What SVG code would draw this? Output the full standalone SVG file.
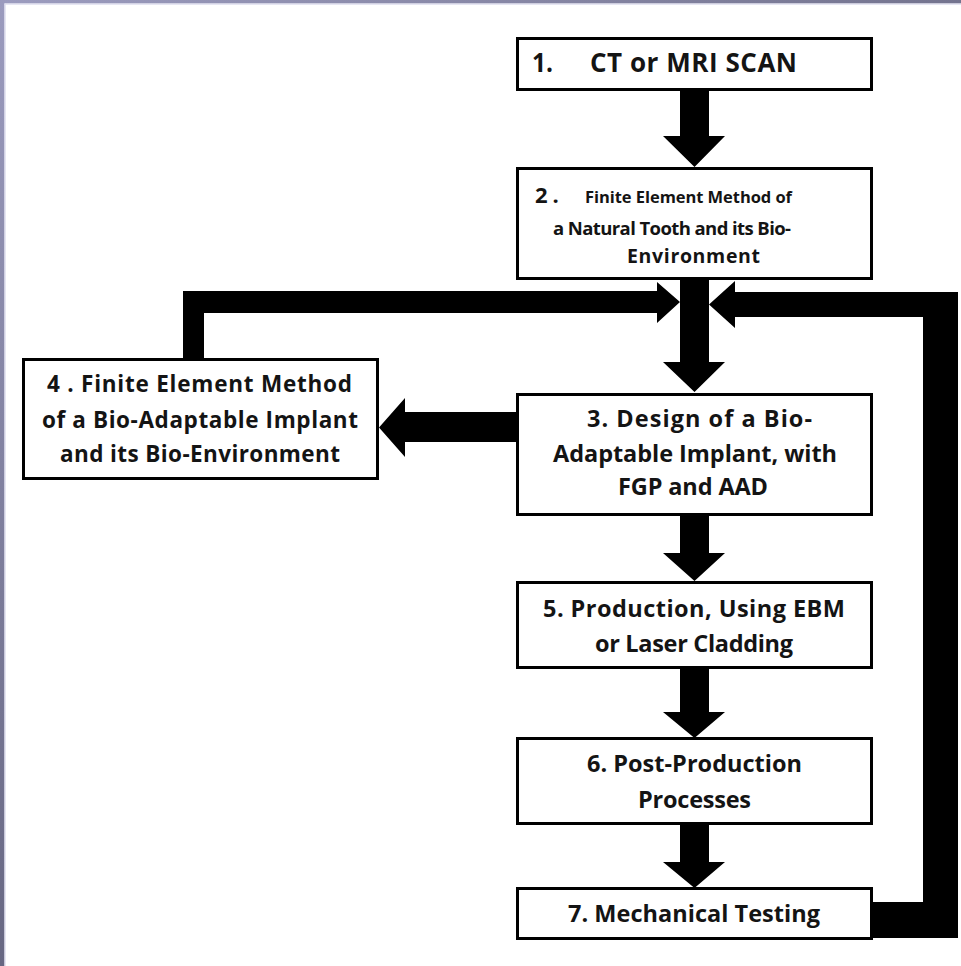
<svg xmlns="http://www.w3.org/2000/svg" width="961" height="966" viewBox="0 0 961 966">
<defs>
<linearGradient id="gTop" x1="0" y1="0" x2="1" y2="0">
<stop offset="0" stop-color="#9c9cbf"/><stop offset="1" stop-color="#74748f"/>
</linearGradient>
<linearGradient id="gLeft" x1="0" y1="0" x2="0" y2="1">
<stop offset="0" stop-color="#9b9bbe"/><stop offset="1" stop-color="#676782"/>
</linearGradient>
<style>
.box{fill:#fff;stroke:#000;stroke-width:3}
.con{fill:#000}
text{font-family:"Open Sans",Lato,"Liberation Sans",sans-serif;font-weight:bold;fill:#141414}
</style>
</defs>
<rect x="0" y="0" width="961" height="966" fill="#fff"/>
<rect x="0" y="0" width="961" height="3.5" fill="url(#gTop)"/>
<rect x="0" y="0" width="4.5" height="966" fill="url(#gLeft)"/>
<rect x="4.5" y="3.5" width="956.5" height="1.2" fill="#dcdcee"/>
<rect x="4.5" y="3.5" width="1.2" height="962.5" fill="#dcdcee"/>

<g id="connectors">
<polygon class="con" points="680,90 709,90 709,136 725,136 694.5,167 663,136 680,136"/>
<polygon class="con" points="680,278 709,278 709,362 725,362 694.5,392 663,362 680,362"/>
<polygon class="con" points="680,515 709,515 709,553 725,553 694.5,581 663,553 680,553"/>
<polygon class="con" points="680,668 709,668 709,712 725,712 694.5,738 663,712 680,712"/>
<polygon class="con" points="680,824 709,824 709,862 725,862 694.5,888 663,862 680,862"/>
<polygon class="con" points="516,412 405,412 405,398 379,427.5 405,457 405,442 516,442"/>
<polygon class="con" points="183,358 183,291 657,291 657,282 680,302 657,323 657,313 204,313 204,358"/>
<polygon class="con" points="872,902 923,902 923,317 735,317 735,328 709,304.5 735,281 735,292 958,292 958,938 872,938"/>
</g>

<g id="node1">
<rect class="box" x="517.5" y="38.5" width="354" height="51"/>
<text x="532" y="72" font-size="26" textLength="21" lengthAdjust="spacingAndGlyphs">1.</text>
<text x="590" y="72" font-size="26" textLength="207" lengthAdjust="spacing">CT or MRI SCAN</text>
</g>

<g id="node2">
<rect class="box" x="517.5" y="168.5" width="354" height="110"/>
<text x="535" y="203" font-size="22">2<tspan dx="5">.</tspan></text>
<text x="585" y="203" font-size="16.5" textLength="207" lengthAdjust="spacing">Finite Element Method of</text>
<text x="553" y="235" font-size="18.5" textLength="238" lengthAdjust="spacing">a Natural Tooth and its Bio-</text>
<text x="627" y="263" font-size="19.5" textLength="133" lengthAdjust="spacing">Environment</text>
</g>

<g id="node3">
<rect class="box" x="517.5" y="394.5" width="354" height="120"/>
<text x="587" y="427" font-size="23.5" textLength="225" lengthAdjust="spacing">3. Design of a Bio-</text>
<text x="553" y="462" font-size="23.5" textLength="284" lengthAdjust="spacing">Adaptable Implant, with</text>
<text x="618" y="495" font-size="23.5" textLength="150" lengthAdjust="spacing">FGP and AAD</text>
</g>

<g id="node4">
<rect class="box" x="23.5" y="359.5" width="354" height="119"/>
<text x="47" y="392" font-size="22.5" textLength="305" lengthAdjust="spacing">4 . Finite Element Method</text>
<text x="42" y="428" font-size="22.5" textLength="316" lengthAdjust="spacing">of a Bio-Adaptable  Implant</text>
<text x="60" y="462" font-size="22.5" textLength="280" lengthAdjust="spacing">and its Bio-Environment</text>
</g>

<g id="node5">
<rect class="box" x="517.5" y="582.5" width="354" height="85"/>
<text x="543" y="617" font-size="23.5" textLength="302" lengthAdjust="spacing">5. Production, Using EBM</text>
<text x="595" y="652" font-size="23.5" textLength="198" lengthAdjust="spacing">or Laser Cladding</text>
</g>

<g id="node6">
<rect class="box" x="517.5" y="738.5" width="354" height="85"/>
<text x="587" y="772" font-size="23.5" textLength="215" lengthAdjust="spacing">6. Post-Production</text>
<text x="638" y="808" font-size="23.5" textLength="113" lengthAdjust="spacing">Processes</text>
</g>

<g id="node7">
<rect class="box" x="517.5" y="888.5" width="354" height="50"/>
<text x="568" y="922" font-size="23.5" textLength="252" lengthAdjust="spacing">7. Mechanical Testing</text>
</g>
</svg>
